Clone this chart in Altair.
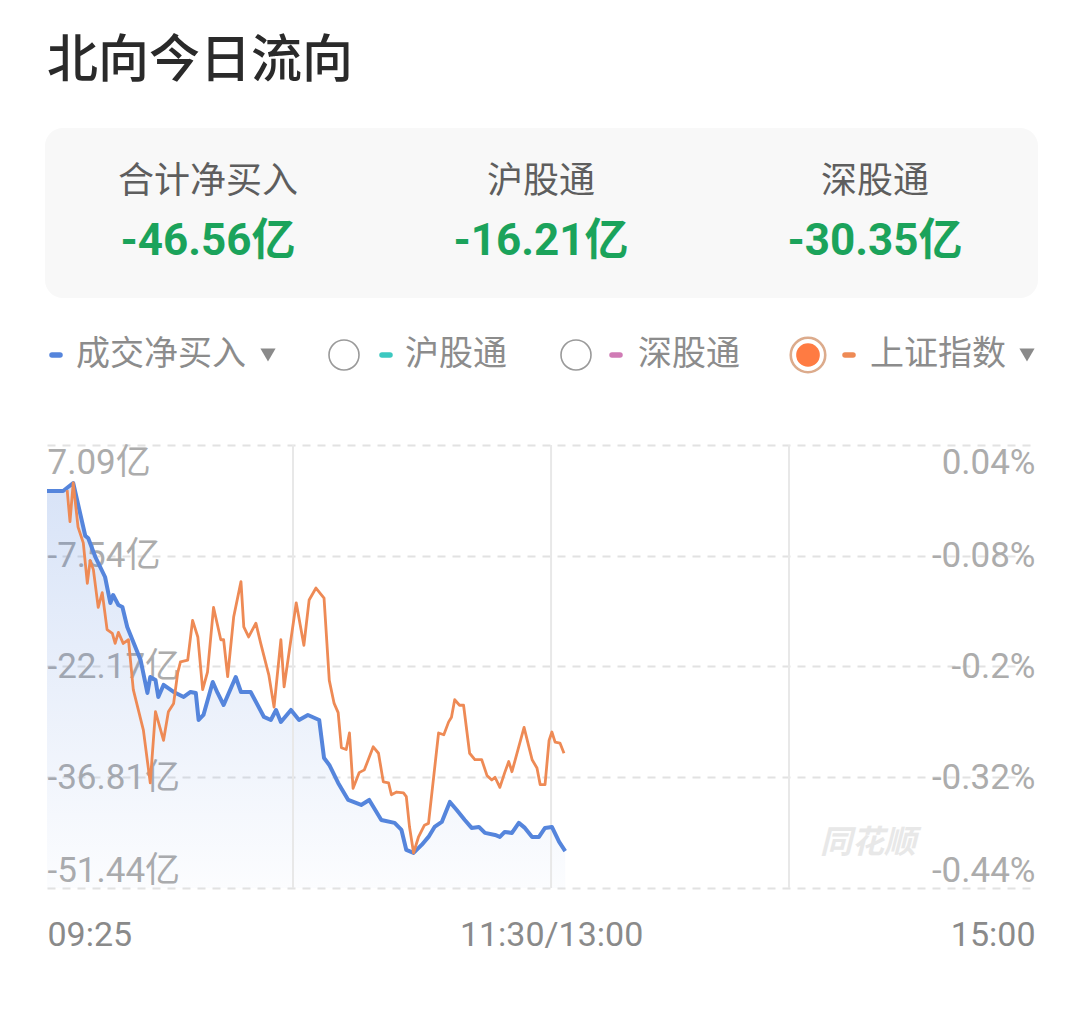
import altair as alt
import pandas as pd

# ---------------- data ----------------
TITLE = "北向今日流向"
SUMMARY_LABELS = ["合计净买入", "沪股通", "深股通"]
SUMMARY_VALUES = [-46.56, -16.21, -30.35]
LEGEND_NAMES = ["成交净买入", "沪股通", "深股通", "上证指数"]
LEGEND_COLORS = ["#5585dc", "#3cc8c0", "#d07bb5", "#ee8a55"]
WATERMARK = "同花顺"

LEFT_TICKS = [7.09, -7.54, -22.17, -36.81, -51.44]      # 亿
RIGHT_TICKS = [0.04, -0.08, -0.2, -0.32, -0.44]         # %
X_TICKS = [0, 125, 245]                                  # minutes of session time since 09:25
X_TICK_LABELS = ["09:25", "11:30/13:00", "15:00"]
SESSION_LINES = [61, 125, 184]

# 成交净买入 (亿)
BLUE_T = [0, 4, 6.5, 9.5, 10.2, 12, 14.4, 15.7, 16.4, 17.7, 18.7, 19.9, 22.4, 23.2, 24.9,
          25.6, 26.9, 27.6, 28.9, 31.4, 33.9, 35.6, 36.9, 37.6, 38.8, 41.1, 42.3, 43.8,
          46.8, 48.1, 50.5, 53.8, 55.5, 56.8, 58, 60.5, 62.5, 64.7, 67.5, 68.7, 70, 72.2,
          74.7, 77.9, 79.9, 82.9, 86.2, 87.9, 89.1, 90.9, 92.9, 94.6, 96.1, 97.9, 99.9,
          101.6, 103.6, 105.3, 107.1, 108.6, 111.1, 112.3, 113.5, 115.3, 117, 118.5,
          120.3, 122, 123.5, 125.2, 127, 128.5]
BLUE_V = [1.01, 1.01, 2.07, -4.93, -5.20, -7.71, -10.35, -13.78, -12.73, -14.05, -14.31,
          -16.95, -20.26, -21.31, -25.67, -23.56, -23.95, -26.20, -24.61, -25.54, -26.20,
          -25.54, -25.67, -29.24, -28.58, -24.22, -25.67, -27.26, -23.56, -25.54, -25.54,
          -28.84, -29.24, -27.92, -29.50, -27.92, -29.24, -28.58, -29.24, -34.26, -35.18,
          -37.56, -39.81, -40.47, -39.81, -42.45, -42.84, -43.77, -46.41, -46.81, -45.75,
          -44.69, -43.37, -42.71, -40.07, -41.13, -42.45, -43.50, -43.37, -44.16, -44.43,
          -44.69, -44.03, -44.16, -42.84, -43.50, -44.69, -44.69, -43.50, -43.37, -45.35,
          -46.56]

# 上证指数 (%)
ORANGE_T = [5, 5.7, 6.5, 7.7, 9, 10, 10.7, 11.5, 12.7, 13.7, 14.9, 16.2, 16.9, 17.7, 18.9,
            20.2, 21.4, 23.9, 25.6, 26.9, 28.9, 30.1, 31.4, 32.4, 33.1, 34.9, 36.1, 37.4,
            38.6, 39.8, 41.3, 43.1, 43.8, 44.8, 46.3, 48.1, 48.8, 50, 51.8, 53, 55, 56.3,
            58, 58.8, 61.8, 63.7, 65, 66.7, 68.7, 70, 71.2, 72.2, 73, 74.2, 75, 75.9, 77.4,
            78.7, 80.9, 82.2, 83.4, 84.7, 85.4, 86.7, 88.4, 89.1, 89.9, 90.9, 92.1, 93.6,
            94.6, 97.1, 98.4, 99.6, 100.3, 101.1, 102.3, 103.3, 104.8, 106.1, 107.8, 109.1,
            110.3, 111.1, 112.3, 113.5, 114.5, 115.3, 118.3, 119.5, 120.3, 121.5, 122.3,
            123.5, 124.5, 125.2, 126, 127.2, 128.2]
ORANGE_V = [-0.009, -0.043, -0.001, -0.049, -0.066, -0.110, -0.085, -0.095, -0.136, -0.120,
            -0.160, -0.164, -0.175, -0.163, -0.175, -0.171, -0.225, -0.269, -0.326, -0.249,
            -0.280, -0.249, -0.240, -0.207, -0.195, -0.193, -0.150, -0.168, -0.225, -0.206,
            -0.136, -0.171, -0.171, -0.211, -0.146, -0.108, -0.157, -0.168, -0.153, -0.175,
            -0.209, -0.244, -0.171, -0.222, -0.131, -0.177, -0.128, -0.115, -0.126, -0.215,
            -0.240, -0.250, -0.288, -0.290, -0.272, -0.332, -0.315, -0.312, -0.287, -0.294,
            -0.325, -0.326, -0.339, -0.336, -0.337, -0.341, -0.374, -0.402, -0.385, -0.372,
            -0.370, -0.272, -0.274, -0.260, -0.255, -0.236, -0.242, -0.242, -0.294, -0.301,
            -0.301, -0.318, -0.323, -0.320, -0.331, -0.315, -0.303, -0.314, -0.266, -0.287,
            -0.301, -0.310, -0.328, -0.328, -0.280, -0.271, -0.282, -0.283, -0.294]

# ---------------- layout ----------------
W, H = 988, 443
OX, OY = 47, 445          # page position of plot origin
CJK = "Noto Sans CJK SC"
NUM = "Roboto, Noto Sans CJK SC"


def px(x):
    return x - OX


def py(y):
    return y - OY


blue_df = pd.DataFrame({"t": BLUE_T, "v": BLUE_V})
orange_df = pd.DataFrame({"t": ORANGE_T, "p": ORANGE_V})

x_label_expr = " : ".join(
    f"datum.value == {v} ? '{l}'" for v, l in zip(X_TICKS[:-1], X_TICK_LABELS[:-1])
) + f" : '{X_TICK_LABELS[-1]}'"

x_enc = alt.X(
    "t:Q",
    scale=alt.Scale(domain=[X_TICKS[0], X_TICKS[-1]], nice=False, zero=False),
    axis=alt.Axis(values=X_TICKS, labelExpr=x_label_expr, labelFlush=True, grid=False,
                  domain=False, ticks=False, tickSize=0, labelPadding=30, labelFontSize=34,
                  labelLimit=500, labelOverlap=False,
                  labelColor="#8a8a8a", labelFont=NUM, title=None),
)

left_axis = alt.Axis(orient="left", values=LEFT_TICKS, labelExpr="datum.value + '亿'",
                     labelAlign="left", labelPadding=0, ticks=False, tickSize=0,
                     domain=False, grid=True, gridDash=[8, 7], gridColor="#e2e2e2",
                     gridWidth=2, labelFlush=True, labelFontSize=35, labelColor="#acacac",
                     labelLimit=400, labelOverlap=False, labelFont=NUM, title=None)
right_axis = alt.Axis(orient="right", values=RIGHT_TICKS, labelExpr="datum.value + '%'",
                      labelAlign="right", labelPadding=0, ticks=False, tickSize=0,
                      domain=False, grid=False, labelFlush=True, labelFontSize=35,
                      labelColor="#acacac", labelLimit=400, labelOverlap=False,
                      labelFont=NUM, title=None)

left_scale = alt.Scale(domain=[LEFT_TICKS[-1], LEFT_TICKS[0]], nice=False, zero=False)
right_scale = alt.Scale(domain=[RIGHT_TICKS[-1], RIGHT_TICKS[0]], nice=False, zero=False)

area = alt.Chart(blue_df).mark_area(
    color=alt.Gradient(
        gradient="linear",
        stops=[alt.GradientStop(color="rgba(76,127,219,0.22)", offset=0),
               alt.GradientStop(color="rgba(76,127,219,0.02)", offset=1)],
        x1=1, x2=1, y1=0, y2=1,
    )
).encode(x=x_enc, y=alt.Y("v:Q", scale=left_scale, axis=left_axis),
         y2=alt.datum(LEFT_TICKS[-1]))

blue_line = alt.Chart(blue_df).mark_line(color=LEGEND_COLORS[0], strokeWidth=4,
                                         strokeJoin="round").encode(
    x=x_enc, y=alt.Y("v:Q", scale=left_scale, axis=left_axis))

orange_line = alt.Chart(orange_df).mark_line(color=LEGEND_COLORS[3], strokeWidth=2.8,
                                             strokeJoin="round").encode(
    x=x_enc, y=alt.Y("p:Q", scale=right_scale, axis=right_axis))

rules = alt.Chart(pd.DataFrame({"t": SESSION_LINES})).mark_rule(
    color="#e8e8e8", strokeWidth=2).encode(x=x_enc, y=alt.value(0), y2=alt.value(H))

deco = []


def text_layer(txt, x, y, size, color, align="left", font=CJK, weight="normal",
               style="normal"):
    return alt.Chart(pd.DataFrame({"s": [txt]})).mark_text(
        align=align, baseline="middle", fontSize=size, color=color, font=font,
        fontWeight=weight, fontStyle=style).encode(
        text="s:N", x=alt.value(x), y=alt.value(y))


def dummy():
    return alt.Chart(pd.DataFrame({"a": [0]}))


# title
deco.append(text_layer(TITLE, px(47), py(62), 51, "#2a2a2a", weight=500))

# summary card
deco.append(dummy().mark_rect(cornerRadius=18, fill="#f8f8f8").encode(
    x=alt.value(px(45)), x2=alt.value(px(1038)), y=alt.value(py(128)),
    y2=alt.value(py(298))))
col_centers = [208, 541, 875]
for lab, val, cx in zip(SUMMARY_LABELS, SUMMARY_VALUES, col_centers):
    deco.append(text_layer(lab, px(cx), py(182), 36, "#5e5e5e", align="center"))
    deco.append(text_layer(f"{val:.2f}亿", px(cx), py(242), 44, "#1ba35b",
                           align="center", font=NUM, weight="bold"))

# legend row
LY = py(355)
dash_x = [50, 380, 610, 843]
text_x = [76, 405, 638, 870]
for name, col, dx, tx in zip(LEGEND_NAMES, LEGEND_COLORS, dash_x, text_x):
    deco.append(dummy().mark_rule(color=col, strokeWidth=5.5, strokeCap="round").encode(
        x=alt.value(px(dx) + 2), x2=alt.value(px(dx + 12) - 2), y=alt.value(LY)))
    deco.append(text_layer(name, px(tx), LY, 34, "#8c8c8c"))
# radio buttons
for cx in [344, 576]:
    deco.append(dummy().mark_point(shape="circle", filled=True, fill="white",
                                   stroke="#9a9a9a", strokeWidth=1.6, size=900,
                                   opacity=1).encode(x=alt.value(px(cx)), y=alt.value(LY)))
deco.append(dummy().mark_point(shape="circle", filled=True, fill="white",
                               stroke="#dcab8c", strokeWidth=2.6, size=1190,
                               opacity=1).encode(x=alt.value(px(808)), y=alt.value(LY)))
deco.append(dummy().mark_point(shape="circle", filled=True, fill="#ff7b42", size=560,
                               opacity=1).encode(x=alt.value(px(808)), y=alt.value(LY)))
# dropdown triangles
for cx in [268, 1027]:
    deco.append(dummy().mark_point(shape="triangle-down", filled=True, fill="#8a8a8a",
                                   size=230, opacity=1).encode(
        x=alt.value(px(cx)), y=alt.value(LY)))

# watermark
deco.append(text_layer(WATERMARK, px(868), py(843), 32, "#e8e8e8", align="center",
                       weight="bold", style="italic"))

main = alt.layer(
    alt.layer(area, rules, blue_line),
    orange_line,
).resolve_scale(y="independent")

chart = alt.layer(main, *deco).properties(
    width=W, height=H,
    autosize=alt.AutoSizeParams(type="none"),
    padding={"left": OX - 8, "top": OY - 8, "right": 29, "bottom": 100},
    background="white",
).configure_view(stroke=None)

chart.save("out.html", embed_options={"renderer": "svg", "actions": False})
